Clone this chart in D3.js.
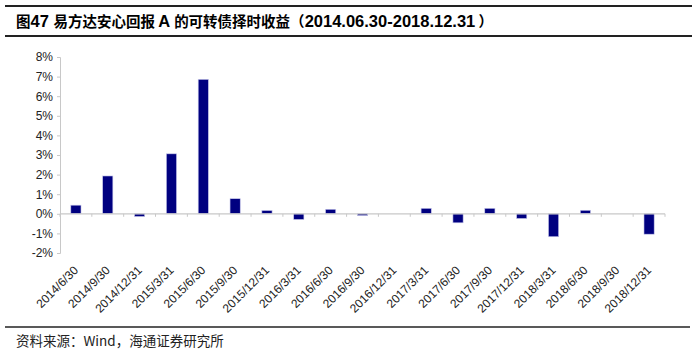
<!DOCTYPE html>
<html>
<head>
<meta charset="utf-8">
<script src="https://cdn.jsdelivr.net/npm/d3@7"></script>
<style>
  body { margin: 0; background: #fff; }
  svg { display: block; }
</style>
</head>
<body>
<div id="chart"></div>
<script>
// 数据
const titleParts = [
  { t: "图", cjk: true }, { t: "47 ", cjk: false },
  { t: "易方达安心回报 ", cjk: true }, { t: "A ", cjk: false },
  { t: "的可转债择时收益（", cjk: true }, { t: "2014.06.30-2018.12.31", cjk: false },
  { t: " ）", cjk: true }
];
const sourceText = "资料来源：Wind，海通证券研究所";
const dates = ["2014/6/30", "2014/9/30", "2014/12/31", "2015/3/31", "2015/6/30", "2015/9/30",
  "2015/12/31", "2016/3/31", "2016/6/30", "2016/9/30", "2016/12/31", "2017/3/31",
  "2017/6/30", "2017/9/30", "2017/12/31", "2018/3/31", "2018/6/30", "2018/9/30", "2018/12/31"];
const returns = [0.44, 1.93, -0.14, 3.06, 6.86, 0.77, 0.17, -0.29, 0.23, -0.09, 0,
  0.28, -0.46, 0.28, -0.24, -1.17, 0.18, 0, -1.04];
const yTicks = [-2, -1, 0, 1, 2, 3, 4, 5, 6, 7, 8];

const width = 700, height = 351;
const margin = { top: 57, right: 35, bottom: 98, left: 60 };

const svg = d3.select("#chart").append("svg")
  .attr("width", width).attr("height", height);

// 标题和上下横线
svg.append("line").attr("x1", 5).attr("x2", 692).attr("y1", 6).attr("y2", 6)
  .attr("stroke", "#222").attr("stroke-width", 2);
const title = svg.append("text")
  .attr("x", 16).attr("y", 27)
  .attr("font-weight", "bold").attr("fill", "#000");
titleParts.forEach(p => {
  title.append("tspan")
    .attr("font-family", p.cjk ? "'Noto Sans CJK SC', sans-serif" : "'Liberation Sans', Arial, sans-serif")
    .attr("font-size", p.cjk ? 14.5 : 16.5)
    .text(p.t);
});
svg.append("line").attr("x1", 5).attr("x2", 692).attr("y1", 36).attr("y2", 36)
  .attr("stroke", "#222").attr("stroke-width", 2);

const x = d3.scaleBand()
  .domain(dates)
  .range([margin.left, width - margin.right])
  .paddingInner(0.68).paddingOuter(0.34);

const y = d3.scaleLinear()
  .domain([-2, 8])
  .range([height - margin.bottom, margin.top]);

// y轴
const yAxis = svg.append("g")
  .attr("transform", `translate(${margin.left},0)`)
  .call(d3.axisLeft(y).tickValues(yTicks).tickFormat(d => d + "%").tickSize(3).tickPadding(4));
yAxis.select(".domain").attr("stroke", "#c8c8c8");
yAxis.selectAll(".tick line").attr("stroke", "#c8c8c8");
yAxis.selectAll(".tick text")
  .attr("font-family", "'Liberation Sans', Arial, sans-serif")
  .attr("font-size", 12).attr("fill", "#222");

// 柱子
svg.append("g").selectAll("rect")
  .data(returns)
  .join("rect")
  .attr("x", (d, i) => x(dates[i]))
  .attr("width", x.bandwidth())
  .attr("y", d => y(Math.max(0, d)))
  .attr("height", d => Math.abs(y(d) - y(0)))
  .attr("fill", "#000080")
  .attr("stroke", "#c8c8ec")
  .attr("stroke-width", 0.6);

// 零线
const x0 = margin.left, x1 = width - margin.right;
svg.append("line")
  .attr("x1", x0).attr("x2", x1)
  .attr("y1", y(0)).attr("y2", y(0))
  .attr("stroke", "#c8c8c8").attr("stroke-width", 1.2);

// 类别分隔刻度
const step = x.step();
svg.append("g").selectAll("line")
  .data(d3.range(dates.length + 1))
  .join("line")
  .attr("x1", i => x0 + i * step).attr("x2", i => x0 + i * step)
  .attr("y1", y(0)).attr("y2", y(0) + 3)
  .attr("stroke", "#c8c8c8");

// x轴标签
svg.append("g").selectAll("text")
  .data(dates)
  .join("text")
  .attr("transform", d => `translate(${x(d) + x.bandwidth() / 2 + 3},${height - margin.bottom + 18}) rotate(-45)`)
  .attr("text-anchor", "end")
  .attr("font-family", "'Liberation Sans', Arial, sans-serif")
  .attr("font-size", 12).attr("fill", "#222")
  .text(d => d);

// 来源
svg.append("line").attr("x1", 5).attr("x2", 690).attr("y1", 327).attr("y2", 327)
  .attr("stroke", "#222").attr("stroke-width", 1.5);
svg.append("text")
  .attr("x", 16).attr("y", 346)
  .attr("font-family", "'Noto Sans CJK SC', sans-serif")
  .attr("font-size", 13.5).attr("fill", "#222")
  .text(sourceText);
</script>
</body>
</html>
